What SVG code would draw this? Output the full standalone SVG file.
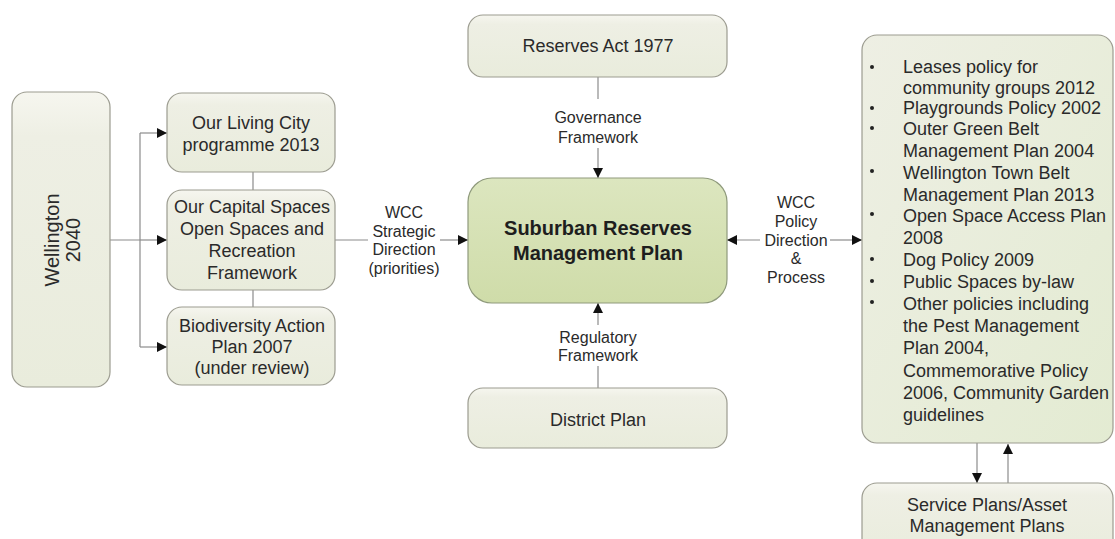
<svg xmlns="http://www.w3.org/2000/svg" width="1115" height="539" viewBox="0 0 1115 539">
  <defs>
    <linearGradient id="boxFill" x1="0" y1="0" x2="0" y2="1">
      <stop offset="0" stop-color="#f6f6ef"/>
      <stop offset="0.15" stop-color="#eeefe4"/>
      <stop offset="1" stop-color="#e9ecdc"/>
    </linearGradient>
    <linearGradient id="listFill" x1="0" y1="0" x2="1" y2="1">
      <stop offset="0" stop-color="#eeefe4"/>
      <stop offset="1" stop-color="#e3ebd2"/>
    </linearGradient>
    <linearGradient id="mainFill" x1="0" y1="0" x2="0" y2="1">
      <stop offset="0" stop-color="#dce6bf"/>
      <stop offset="1" stop-color="#cfdca9"/>
    </linearGradient>
    <marker id="arrow" viewBox="0 0 10 10" refX="10" refY="5" markerWidth="10" markerHeight="10" markerUnits="userSpaceOnUse" orient="auto-start-reverse">
      <path d="M0,0 L10,5 L0,10 Z" fill="#111"/>
    </marker>
    <style>
      .box { fill: url(#boxFill); stroke: #9c9c90; stroke-width: 1.2; }
      .list { fill: url(#listFill); stroke: #9c9c90; stroke-width: 1.2; }
      .main { fill: url(#mainFill); stroke: #8f9a7c; stroke-width: 1.2; }
      .t { font-family: "Liberation Sans", Arial, sans-serif; font-size: 18px; fill: #2a2a2a; text-anchor: middle; dominant-baseline: central; }
      .tw { font-family: "Liberation Sans", Arial, sans-serif; font-size: 20px; fill: #2a2a2a; text-anchor: middle; dominant-baseline: central; }
      .lbl { font-family: "Liberation Sans", Arial, sans-serif; font-size: 16px; fill: #2a2a2a; text-anchor: middle; dominant-baseline: central; }
      .big { font-family: "Liberation Sans", Arial, sans-serif; font-size: 20px; font-weight: bold; fill: #1e1e1e; text-anchor: middle; dominant-baseline: central; }
      .li { font-family: "Liberation Sans", Arial, sans-serif; font-size: 18px; fill: #2a2a2a; dominant-baseline: central; }
      .ln { fill: none; stroke: #8c8c8c; stroke-width: 1.2; }
      .bul { fill: #222; }
    </style>
  </defs>

  <!-- connectors -->
  <g id="connectors">
    <!-- Wellington 2040 bracket to the three strategies -->
    <path class="ln" d="M110,240 H140 M140,133 V347"/>
    <path class="ln" d="M140,133 H167" marker-end="url(#arrow)"/>
    <path class="ln" d="M140,240 H167" marker-end="url(#arrow)"/>
    <path class="ln" d="M140,347 H167" marker-end="url(#arrow)"/>
    <!-- links between stacked strategy boxes -->
    <path class="ln" d="M253,172 V190 M253,290 V307"/>
    <!-- strategic direction into the plan -->
    <path class="ln" d="M335,240 H368"/>
    <path class="ln" d="M440,240 H468" marker-end="url(#arrow)"/>
    <!-- governance framework -->
    <path class="ln" d="M598,77 V99"/>
    <path class="ln" d="M598,148 V178" marker-end="url(#arrow)"/>
    <!-- regulatory framework -->
    <path class="ln" d="M598,325 V303" marker-end="url(#arrow)"/>
    <path class="ln" d="M598,366 V388"/>
    <!-- policy direction, both ways -->
    <path class="ln" d="M760,240 H727" marker-end="url(#arrow)"/>
    <path class="ln" d="M830,240 H862" marker-end="url(#arrow)"/>
    <!-- policies to service plans and back -->
    <path class="ln" d="M977,443 V483" marker-end="url(#arrow)"/>
    <path class="ln" d="M1008,483 V444" marker-end="url(#arrow)"/>
  </g>

  <!-- connector labels -->
  <g id="labels">
    <text class="lbl" x="404" y="212">WCC</text>
    <text class="lbl" x="404" y="231">Strategic</text>
    <text class="lbl" x="404" y="249">Direction</text>
    <text class="lbl" x="404" y="268">(priorities)</text>
    <text class="lbl" x="598" y="117">Governance</text>
    <text class="lbl" x="598" y="137">Framework</text>
    <text class="lbl" x="598" y="337">Regulatory</text>
    <text class="lbl" x="598" y="355">Framework</text>
    <text class="lbl" x="796" y="202">WCC</text>
    <text class="lbl" x="796" y="221">Policy</text>
    <text class="lbl" x="796" y="240">Direction</text>
    <text class="lbl" x="796" y="258">&amp;</text>
    <text class="lbl" x="796" y="277">Process</text>
  </g>

  <g id="wellington2040">
    <rect class="box" x="12" y="92" width="98" height="295" rx="15"/>
    <text class="tw" transform="translate(62,240) rotate(-90)"><tspan x="0" y="-10">Wellington</tspan><tspan x="0" y="11">2040</tspan></text>
  </g>

  <g id="ourLivingCity">
    <rect class="box" x="167" y="93" width="168" height="79" rx="15"/>
    <text class="t" x="251" y="123">Our Living City</text>
    <text class="t" x="251" y="145">programme 2013</text>
  </g>

  <g id="ourCapitalSpaces">
    <rect class="box" x="167" y="190" width="168" height="100" rx="15"/>
    <text class="t" x="252" y="207">Our Capital Spaces</text>
    <text class="t" x="252" y="229">Open Spaces and</text>
    <text class="t" x="252" y="251">Recreation</text>
    <text class="t" x="252" y="273">Framework</text>
  </g>

  <g id="biodiversityPlan">
    <rect class="box" x="167" y="307" width="168" height="78" rx="15"/>
    <text class="t" x="252" y="326">Biodiversity Action</text>
    <text class="t" x="252" y="347">Plan 2007</text>
    <text class="t" x="252" y="368">(under review)</text>
  </g>

  <g id="reservesAct">
    <rect class="box" x="468" y="15" width="259" height="62" rx="15"/>
    <text class="t" x="598" y="46">Reserves Act 1977</text>
  </g>

  <g id="managementPlan">
    <rect class="main" x="468" y="178" width="259" height="125" rx="24"/>
    <text class="big" x="598" y="228">Suburban Reserves</text>
    <text class="big" x="598" y="253">Management Plan</text>
  </g>

  <g id="districtPlan">
    <rect class="box" x="468" y="388" width="259" height="60" rx="15"/>
    <text class="t" x="598" y="420">District Plan</text>
  </g>

  <g id="policies">
    <rect class="list" x="862" y="35" width="251" height="408" rx="15"/>
    <circle class="bul" cx="872" cy="67" r="2"/>
    <circle class="bul" cx="872" cy="108" r="2"/>
    <circle class="bul" cx="872" cy="128" r="2"/>
    <circle class="bul" cx="872" cy="171" r="2"/>
    <circle class="bul" cx="872" cy="214" r="2"/>
    <circle class="bul" cx="872" cy="259" r="2"/>
    <circle class="bul" cx="872" cy="281" r="2"/>
    <circle class="bul" cx="872" cy="302" r="2"/>
    <text class="li" x="903" y="67">Leases policy for</text>
    <text class="li" x="903" y="88">community groups 2012</text>
    <text class="li" x="903" y="108">Playgrounds Policy 2002</text>
    <text class="li" x="903" y="129">Outer Green Belt</text>
    <text class="li" x="903" y="151">Management Plan 2004</text>
    <text class="li" x="903" y="173">Wellington Town Belt</text>
    <text class="li" x="903" y="195">Management Plan 2013</text>
    <text class="li" x="903" y="216">Open Space Access Plan</text>
    <text class="li" x="903" y="238">2008</text>
    <text class="li" x="903" y="260">Dog Policy 2009</text>
    <text class="li" x="903" y="282">Public Spaces by-law</text>
    <text class="li" x="903" y="304">Other policies including</text>
    <text class="li" x="903" y="326">the Pest Management</text>
    <text class="li" x="903" y="348">Plan 2004,</text>
    <text class="li" x="903" y="371">Commemorative Policy</text>
    <text class="li" x="903" y="393">2006, Community Garden</text>
    <text class="li" x="903" y="415">guidelines</text>
  </g>

  <g id="servicePlans">
    <rect class="box" x="862" y="483" width="251" height="80" rx="15"/>
    <text class="t" x="987" y="505">Service Plans/Asset</text>
    <text class="t" x="987" y="526">Management Plans</text>
  </g>
</svg>
